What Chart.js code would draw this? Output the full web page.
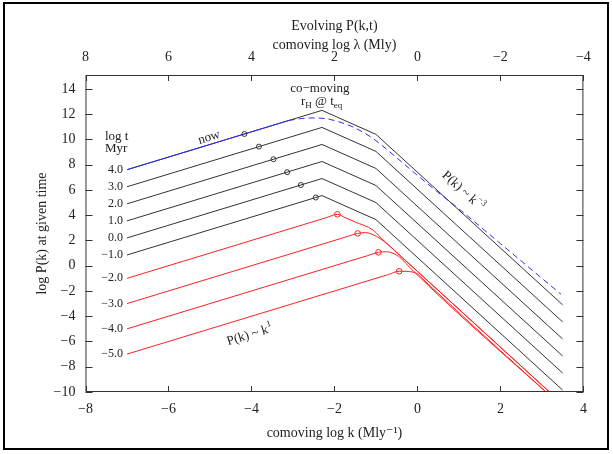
<!DOCTYPE html>
<html>
<head>
<meta charset="utf-8">
<script src="https://cdn.jsdelivr.net/npm/chart.js@4.4.0/dist/chart.umd.min.js"></script>
<style>
  body { margin: 0; background: #fff; }
  canvas { display: block; }
</style>
</head>
<body>
<canvas id="pk" width="613" height="454"></canvas>
<script>
// tick values
const kTicks = [-8, -6, -4, -2, 0, 2, 4];
const lamTicks = [8, 6, 4, 2, 0, -2, -4];
const pTicks = [-10, -8, -6, -4, -2, 0, 2, 4, 6, 8, 10, 12, 14];

// matter era curves, log t = 4 ... -1 Myr, broken at the same log k
const kBreaks = [-7, -2.3, -1.0, 3.5];
const blackLogT = ["4.0", "3.0", "2.0", "1.0", "0.0", "−1.0"];
const blackP = [
  [7.6, 12.3, 10.4, -3.1],
  [6.25, 10.95, 9.05, -4.45],
  [4.9, 9.6, 7.7, -5.8],
  [3.55, 8.25, 6.35, -7.15],
  [2.2, 6.9, 5.0, -8.5],
  [0.85, 5.55, 3.65, -9.85]
];
// horizon entry on each matter era curve
const blackEntryK = [-4.17, -3.82, -3.47, -3.14, -2.81, -2.45];
const blackEntryP = [10.43, 9.43, 8.43, 7.41, 6.39, 5.4];

// radiation era curves, log t = -2 ... -5 Myr
const redLogT = ["−2.0", "−3.0", "−4.0", "−5.0"];
const redK = [
  [-7, -2.2, -1.93, -1.75, -1.5, -1.07, -0.8, 0.0, 3.5],
  [-7, -1.7, -1.44, -1.26, -0.98, -0.66, -0.42, 3.5],
  [-7, -1.2, -0.94, -0.74, -0.54, -0.38, -0.18, 3.5],
  [-7, -0.7, -0.44, -0.26, 0.02, 0.13, 0.5, 3.5]
];
const redP = [
  [-1.0, 3.8, 4.07, 3.82, 3.46, 2.82, 1.95, -0.45, -10.95],
  [-3.0, 2.3, 2.56, 2.62, 2.31, 1.53, 0.81, -10.95],
  [-5.0, 0.8, 1.06, 1.1, 0.91, 0.54, -0.16, -11.2],
  [-7.0, -0.7, -0.44, -0.45, -0.68, -1.05, -2.2, -11.2]
];
const redEntryK = [-1.93, -1.44, -0.94, -0.44];
const redEntryP = [4.07, 2.56, 1.06, -0.44];

// today's spectrum
const nowSolidK = [-7, -4.5, -3.1];
const nowSolidP = [7.6, 10.1, 11.5];
const nowDashK = [-3.1, -2.8, -2.5, -2.2, -1.9, -1.6, -1.3, -1.0, -0.5, 0.0, 0.5, 1.0, 2.0, 3.46];
const nowDashP = [11.5, 11.65, 11.7, 11.64, 11.4, 11.05, 10.55, 9.9, 8.55, 7.15, 5.8, 4.5, 1.75, -2.26];

const FONT = '"Liberation Serif", "DejaVu Serif", serif';
const INK = '#222';
Chart.defaults.font.family = FONT;
Chart.defaults.color = INK;

const pts = (xs, ys) => xs.map((x, i) => ({ x: x, y: ys[i] }));
const minus = v => String(v).replace('-', '−');

const datasets = [];
datasets.push({ data: pts(blackEntryK, blackEntryP), showLine: false, pointRadius: 2.5,
  pointBorderColor: '#333', pointBackgroundColor: 'rgba(0,0,0,0)', pointBorderWidth: 1 });
datasets.push({ data: pts(redEntryK, redEntryP), showLine: false, pointRadius: 2.8,
  pointBorderColor: '#ff2020', pointBackgroundColor: 'rgba(0,0,0,0)', pointBorderWidth: 1 });
datasets.push({ data: pts(nowSolidK, nowSolidP), borderColor: '#2a2aff', borderWidth: 1, pointRadius: 0 });
datasets.push({ data: pts(nowDashK, nowDashP), borderColor: '#2a2aff', borderWidth: 1, pointRadius: 0,
  borderDash: [6, 4], cubicInterpolationMode: 'monotone' });
blackP.forEach(row => {
  datasets.push({ data: pts(kBreaks, row), borderColor: '#333', borderWidth: 1, pointRadius: 0, tension: 0 });
});
redK.forEach((row, i) => {
  datasets.push({ data: pts(row, redP[i]), borderColor: '#ff2020', borderWidth: 1, pointRadius: 0,
    cubicInterpolationMode: 'monotone' });
});

// draws a string made of normal / superscript / subscript pieces, centred at (cx, cy)
function richText(ctx, parts, cx, cy, angle, size) {
  ctx.save();
  ctx.translate(cx, cy);
  ctx.rotate(angle);
  ctx.textBaseline = 'middle';
  ctx.textAlign = 'left';
  ctx.fillStyle = INK;
  const small = Math.round(size * 0.7);
  let w = 0;
  parts.forEach(p => {
    ctx.font = ((p.sup || p.sub) ? small : size) + 'px ' + FONT;
    p.w = ctx.measureText(p.t).width;
    w += p.w;
  });
  let x = -w / 2;
  parts.forEach(p => {
    ctx.font = ((p.sup || p.sub) ? small : size) + 'px ' + FONT;
    const dy = p.sup ? -size * 0.38 : (p.sub ? size * 0.3 : 0);
    ctx.fillText(p.t, x, dy);
    x += p.w;
  });
  ctx.restore();
}

const frame = {
  id: 'frame',
  afterDraw(chart) {
    const ctx = chart.ctx;
    const a = chart.chartArea;
    const xs = chart.scales.x, ys = chart.scales.y;
    ctx.save();
    // outer border of the figure
    ctx.strokeStyle = '#000';
    ctx.lineWidth = 2;
    ctx.strokeRect(4, 3, 604, 446);
    // plot box with inward ticks
    ctx.strokeStyle = '#333';
    ctx.lineWidth = 1;
    ctx.strokeRect(a.left + 0.5, a.top + 0.5, a.right - a.left - 1, a.bottom - a.top - 1);
    ctx.beginPath();
    kTicks.forEach(v => {
      const px = Math.round(xs.getPixelForValue(v)) + 0.5;
      ctx.moveTo(px, a.bottom); ctx.lineTo(px, a.bottom - 6);
      ctx.moveTo(px, a.top); ctx.lineTo(px, a.top + 6);
    });
    pTicks.forEach(v => {
      const py = Math.round(ys.getPixelForValue(v)) + 0.5;
      ctx.moveTo(a.left, py); ctx.lineTo(a.left + 7, py);
      ctx.moveTo(a.right, py); ctx.lineTo(a.right - 7, py);
    });
    ctx.stroke();

    // curve labels at the left end
    ctx.fillStyle = INK;
    ctx.font = '12px ' + FONT;
    ctx.textAlign = 'right';
    ctx.textBaseline = 'middle';
    const x0 = xs.getPixelForValue(kBreaks[0]) - 4;
    blackLogT.forEach((s, i) => ctx.fillText(s, x0, ys.getPixelForValue(blackP[i][0])));
    redLogT.forEach((s, i) => ctx.fillText(s, x0, ys.getPixelForValue(redP[i][0])));
    ctx.textAlign = 'left';
    ctx.font = '13px ' + FONT;
    ctx.fillText('log t', xs.getPixelForValue(-7.53), ys.getPixelForValue(10.22));
    ctx.fillText('Myr', xs.getPixelForValue(-7.53), ys.getPixelForValue(9.3));

    const ang = m => Math.atan2(ys.getPixelForValue(m) - ys.getPixelForValue(0),
      xs.getPixelForValue(1) - xs.getPixelForValue(0));
    const at = (k, p) => [xs.getPixelForValue(k), ys.getPixelForValue(p)];

    richText(ctx, [{ t: 'now' }], ...at(-5.02, 10.16), ang(1), 13);
    richText(ctx, [{ t: 'co−moving' }], ...at(-2.35, 14.05), 0, 13);
    richText(ctx, [{ t: 'r' }, { t: 'H', sub: true }, { t: ' @ t' }, { t: 'eq', sub: true }],
      ...at(-2.31, 13.0), 0, 13);
    richText(ctx, [{ t: 'P(k) ~ k' }, { t: '−3', sup: true }], ...at(1.1, 5.92), ang(-3), 13);
    richText(ctx, [{ t: 'P(k) ~ k' }, { t: '1', sup: true }], ...at(-4.04, -5.49), ang(1), 13);
    ctx.restore();
  }
};

const tickFont = { size: 14, family: FONT };
const titleFont = { size: 14, family: FONT, lineHeight: 1.35 };

new Chart(document.getElementById('pk'), {
  type: 'line',
  data: { datasets: datasets },
  options: {
    responsive: false,
    animation: false,
    layout: { padding: { left: 0, right: 29.6, top: 0, bottom: 0 } },
    plugins: { legend: { display: false }, tooltip: { enabled: false } },
    scales: {
      x: {
        type: 'linear', position: 'bottom', min: -8, max: 4,
        afterBuildTicks: s => { s.ticks = kTicks.map(v => ({ value: v })); },
        afterFit: s => { s.height = 62; },
        grid: { display: false, drawTicks: false }, border: { display: false },
        ticks: { padding: 9, font: tickFont, maxRotation: 0, autoSkip: false, callback: minus },
        title: { display: true, text: 'comoving log k (Mly⁻¹)', font: titleFont, padding: { top: 0, bottom: 11.5 } }
      },
      xTop: {
        type: 'linear', position: 'top', min: -4, max: 8, reverse: true,
        afterBuildTicks: s => { s.ticks = lamTicks.map(v => ({ value: v })); },
        afterFit: s => { s.height = 75; },
        grid: { display: false, drawTicks: false }, border: { display: false },
        ticks: { padding: 9, font: tickFont, maxRotation: 0, autoSkip: false, callback: minus },
        title: { display: true, text: ['Evolving P(k,t)', 'comoving log λ (Mly)'], font: titleFont,
          padding: { top: 16.5, bottom: 0 } }
      },
      y: {
        type: 'linear', position: 'left', min: -10, max: 15.1,
        afterBuildTicks: s => { s.ticks = pTicks.map(v => ({ value: v })); },
        afterFit: s => { s.width = 85.5; },
        grid: { display: false, drawTicks: false }, border: { display: false },
        ticks: { padding: 10, font: tickFont, autoSkip: false, callback: minus },
        title: { display: true, text: 'log P(k) at given time', font: titleFont, padding: { top: 32.5, bottom: 0 } }
      }
    }
  },
  plugins: [frame]
});
</script>
</body>
</html>
